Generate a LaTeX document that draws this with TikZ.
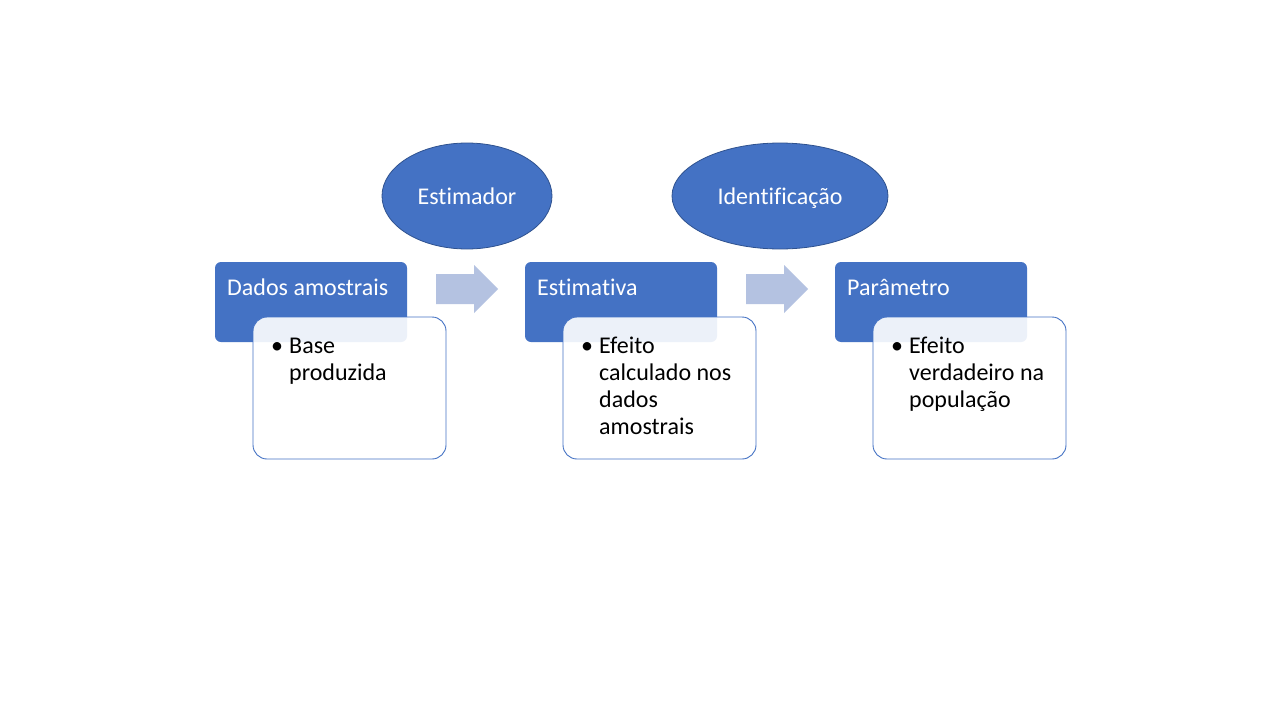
\documentclass[tikz,border=0pt]{standalone}
\usepackage{fontspec}
\setmainfont{Carlito}[Ligatures=NoCommon]
\usetikzlibrary{shapes.geometric}
\definecolor{hdr}{HTML}{4472C4}
\definecolor{arr}{HTML}{B4C2E1}
\definecolor{edge}{HTML}{2F528F}
\tikzset{
  hdrbox/.style={fill=hdr, rounded corners=6pt},
  bodybox/.style={draw=hdr, line width=0.9pt, fill=white, fill opacity=0.9, rounded corners=14pt},
  oval/.style={ellipse, draw=edge, line width=0.8pt, fill=hdr, minimum width=170pt, minimum height=106pt, inner sep=0pt, text=white, text height=16pt, text depth=0pt, font=\fontsize{24}{27}\selectfont},
  hdrtxt/.style={anchor=base west, inner sep=0pt, text=white, font=\fontsize{24}{27}\selectfont},
  bodytxt/.style={anchor=base west, inner sep=0pt, text=black, font=\fontsize{24}{27}\selectfont},
  bul/.style={anchor=base, inner sep=0pt, text=black, font=\fontsize{24}{27}\selectfont},
  flowarrow/.style={fill=arr}
}
\begin{document}
\begin{tikzpicture}[x=1pt,y=-1pt]
\useasboundingbox (0,0) rectangle (1280,720);
\fill[white] (0,0) rectangle (1280,720);

% ellipses
\node[oval] (est) at (467,196) {Estimador};
\node[oval, minimum width=216pt] (ident) at (780,196) {Identificação};

% arrows
\foreach \x/\n in {436/a1,746/a2}{
  \fill[flowarrow] (\x,274) -- (\x+38,274) -- (\x+38,265) -- (\x+62,289) -- (\x+38,313) -- (\x+38,304) -- (\x,304) -- cycle;
}

% blocks
\foreach \x/\n in {215/b1,525/b2,835/b3}{
  \fill[hdrbox] (\x,262) rectangle (\x+192,342);
  \draw[bodybox] (\x+38,317) rectangle (\x+231,459);
}

\node[hdrtxt] (h1) at (227,295) {Dados amostrais};
\node[hdrtxt] (h2) at (537,295) {Estimativa};
\node[hdrtxt] (h3) at (847,295) {Parâmetro};

% block 1 body
\node[bul] (u1) at (277,353) {•};
\node[bodytxt] (t11) at (289,353) {Base};
\node[bodytxt] (t12) at (289,380) {produzida};
% block 2 body
\node[bul] (u2) at (587,353) {•};
\node[bodytxt] (t21) at (599,353) {Efeito};
\node[bodytxt] (t22) at (599,380) {calculado nos};
\node[bodytxt] (t23) at (599,407) {dados};
\node[bodytxt] (t24) at (599,434) {amostrais};
% block 3 body
\node[bul] (u3) at (897,353) {•};
\node[bodytxt] (t31) at (909,353) {Efeito};
\node[bodytxt] (t32) at (909,380) {verdadeiro na};
\node[bodytxt] (t33) at (909,407) {população};
\end{tikzpicture}
\end{document}
